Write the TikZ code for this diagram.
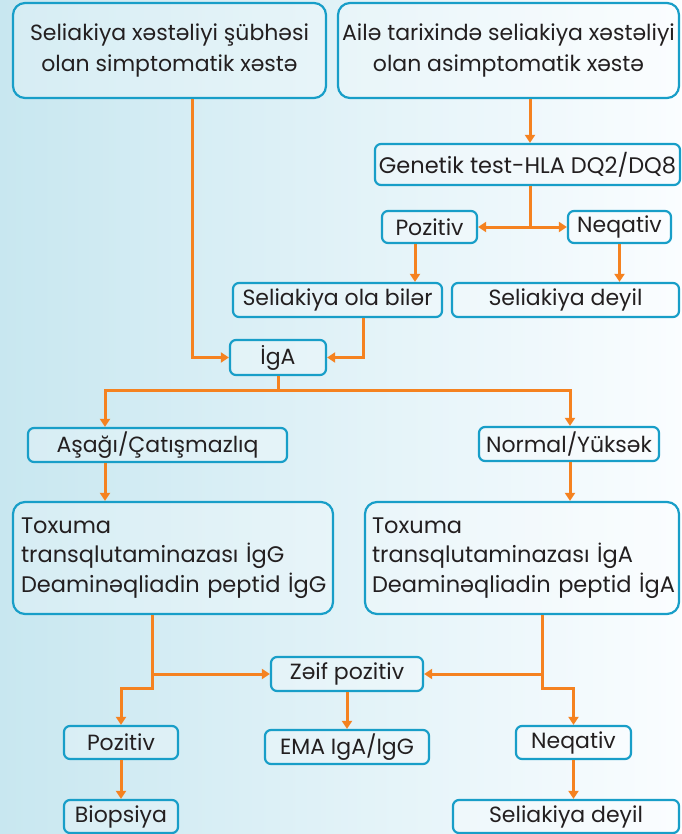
\documentclass[tikz,border=0pt]{standalone}
\usepackage{fontspec}
\setmainfont{Poppins}
\usetikzlibrary{arrows.meta,calc}
\definecolor{bord}{RGB}{24,158,200}
\definecolor{org}{RGB}{245,130,32}
\definecolor{bgl}{RGB}{200,231,240}
\definecolor{bgr}{RGB}{250,253,255}
\definecolor{txt}{RGB}{35,31,32}
\begin{document}
\begin{tikzpicture}[x=1pt,y=-1pt,
 box/.style={draw=bord, line width=2.2pt, rounded corners=6pt, fill=white, fill opacity=0.25, text opacity=1, text=txt, inner sep=0pt, font=\fontsize{22}{26}\selectfont},
 bigbox/.style={box, rounded corners=12pt, align=center, font=\fontsize{22}{31}\selectfont},
 toxbox/.style={box, rounded corners=12pt, align=left, font=\fontsize{22.5}{29.5}\selectfont},
 conn/.style={draw=org, line width=3pt},
 arr/.style={conn, -{Triangle[width=10pt,length=8pt]}},
]
\shade[left color=bgl, right color=bgr] (0,0) rectangle (681,834);
\useasboundingbox (0,0) rectangle (681,834);

\node[bigbox, minimum width=313pt, minimum height=95pt] (n1) at (169.5,50.5) {Seliakiya xəstəliyi şübhəsi\\olan simptomatik xəstə};
\node[bigbox, minimum width=341pt, minimum height=95pt] (n2) at (508.5,50.5) {Ailə tarixində seliakiya xəstəliyi\\olan asimptomatik xəstə};
\node[box, minimum width=305pt, minimum height=41pt, font=\fontsize{22.5}{26}\selectfont] (gen) at (527.5,164.5) {Genetik test-HLA DQ2/DQ8};
\node[box, minimum width=95pt, minimum height=32pt] (pos1) at (429.5,227) {Pozitiv};
\node[box, minimum width=103pt, minimum height=32pt] (neg1) at (619.5,227) {Neqativ};
\node[box, minimum width=209pt, minimum height=34pt] (slb) at (337.5,300) {Seliakiya ola bilər};
\node[box, minimum width=227pt, minimum height=34pt] (sd1) at (565.5,300) {Seliakiya deyil};
\node[box, minimum width=96pt, minimum height=35pt] (iga) at (278,357.5) {İgA};
\node[box, minimum width=259pt, minimum height=34pt] (low) at (157.5,445) {Aşağı/Çatışmazlıq};
\node[box, minimum width=180pt, minimum height=34pt] (norm) at (569,444) {Normal/Yüksək};
\node[toxbox, minimum width=320pt, minimum height=112pt, text width=304pt] (tox1) at (173,558) {\mbox{Toxuma}\\\mbox{transqlutaminazası İgG}\\\mbox{Deaminəqliadin peptid İgG}};
\node[toxbox, minimum width=314pt, minimum height=112pt, text width=300pt] (tox2) at (522,558) {\mbox{Toxuma}\\\mbox{transqlutaminazası İgA}\\\mbox{Deaminəqliadin peptid İgA}};
\node[box, minimum width=152pt, minimum height=34pt] (zp) at (347,674) {Zəif pozitiv};
\node[box, minimum width=114pt, minimum height=33pt] (pos2) at (121,742.5) {Pozitiv};
\node[box, minimum width=164pt, minimum height=34pt] (ema) at (347,747) {EMA IgA/IgG};
\node[box, minimum width=115pt, minimum height=33pt] (neg2) at (573.5,742.5) {Neqativ};
\node[box, minimum width=114pt, minimum height=33pt] (bio) at (121,816.5) {Biopsiya};
\node[box, minimum width=226pt, minimum height=33pt] (sd2) at (566,816.5) {Seliakiya deyil};

\coordinate (j1) at (530,227);
\coordinate (j2) at (278,390);
\coordinate (k1) at (0,688);

\draw[arr] ([xshift=22.5pt]n1.south) |- (iga.west);
\draw[arr] (n2.south -| j1) -- (gen.north -| j1);
\draw[conn] (gen.south -| j1) -- (j1);
\draw[arr] (j1) -- (pos1.east);
\draw[arr] (j1) -- (neg1.west);
\draw[arr] ([xshift=-14.5pt]pos1.south) -- ([xshift=-14.5pt]pos1.south |- slb.north);
\draw[arr] (neg1.south) -- (neg1.south |- sd1.north);
\draw[arr] ([xshift=25.5pt]slb.south) |- (iga.east);
\draw[conn] (iga.south) -- (j2);
\draw[arr] (j2) -| ([xshift=-52.5pt]low.north);
\draw[arr] (j2) -| ([xshift=1pt]norm.north);
\draw[arr] ([xshift=-52.5pt]low.south) -- ([xshift=-52.5pt]low.south |- tox1.north);
\draw[arr] ([xshift=1pt]norm.south) -- ([xshift=1pt]norm.south |- tox2.north);
\draw[arr] ([xshift=-21pt]tox1.south) |- (zp.west);
\draw[arr] ([xshift=-21pt]tox1.south) -- ([xshift=-21pt]tox1.south |- k1) -| (pos2.north);
\draw[arr] ([xshift=20pt]tox2.south) |- (zp.east);
\draw[arr] ([xshift=20pt]tox2.south) -- ([xshift=20pt]tox2.south |- k1) -| (neg2.north);
\draw[arr] (zp.south) -- (ema.north);
\draw[arr] (pos2.south) -- (bio.north);
\draw[arr] (neg2.south) -- (neg2.south |- sd2.north);
\end{tikzpicture}
\end{document}
